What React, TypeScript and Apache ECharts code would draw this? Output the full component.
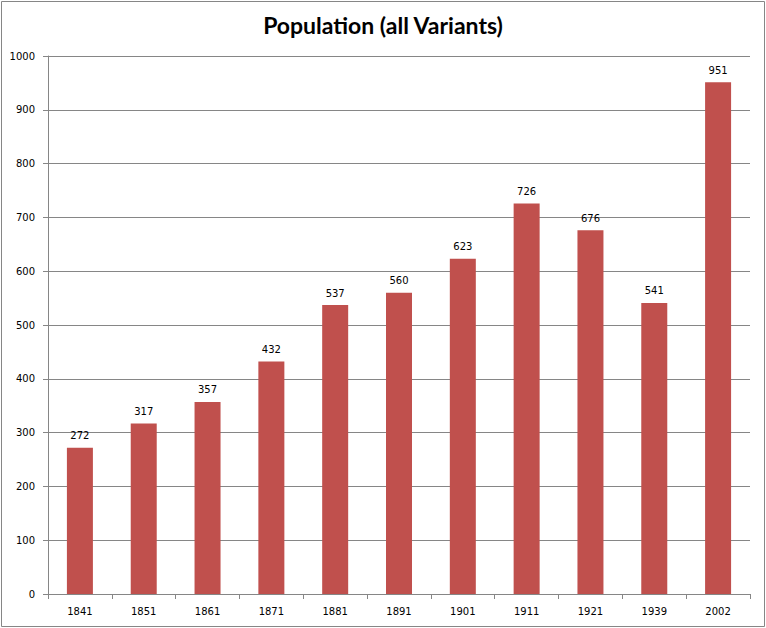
import React, { useEffect, useRef } from "react";
import * as echarts from "echarts";

const years = ["1841", "1851", "1861", "1871", "1881", "1891", "1901", "1911", "1921", "1939", "2002"];
const population = [272, 317, 357, 432, 537, 560, 623, 726, 676, 541, 951];
const titleText = "Population (all Variants)";

const LINE = "#868686";
const FONT = "DejaVu Sans";

export default function App() {
  const ref = useRef<HTMLDivElement>(null);

  useEffect(() => {
    if (!ref.current) return;
    const chart = echarts.init(ref.current, null, { renderer: "svg" });
    chart.setOption({
      animation: false,
      backgroundColor: "#ffffff",
      title: {
        text: titleText,
        left: "center",
        top: 8,
        textStyle: { fontFamily: "Lato", fontWeight: "bold", fontSize: 23, color: "#000" },
      },
      graphic: [
        {
          type: "rect",
          shape: { x: 1.5, y: 1.5, width: 763, height: 625 },
          style: { fill: "none", stroke: LINE, lineWidth: 1 },
          silent: true,
        },
      ],
      grid: { left: 48, right: 16, top: 56, bottom: 34 },
      xAxis: {
        type: "category",
        data: years,
        axisLine: { show: true, lineStyle: { color: LINE } },
        axisTick: { show: true, alignWithLabel: false, length: 5, lineStyle: { color: LINE } },
        axisLabel: { fontFamily: FONT, fontSize: 10, color: "#000", margin: 12 },
      },
      yAxis: {
        type: "value",
        min: 0,
        max: 1000,
        interval: 100,
        axisLine: { show: true, lineStyle: { color: LINE } },
        axisTick: { show: true, length: 5, lineStyle: { color: LINE } },
        axisLabel: {
          fontFamily: FONT,
          fontSize: 10,
          color: "#000",
          margin: 13,
          formatter: (v: number) => String(v),
        },
        splitLine: { show: true, lineStyle: { color: LINE, width: 1 } },
      },
      series: [
        {
          type: "bar",
          data: population,
          barWidth: 26,
          itemStyle: { color: "#C0504D" },
          label: {
            show: true,
            position: "top",
            distance: 7,
            fontFamily: FONT,
            fontSize: 10,
            color: "#000",
          },
        },
      ],
    });
    return () => chart.dispose();
  }, []);

  return <div ref={ref} style={{ width: 766, height: 628, position: "absolute", left: 0, top: 0 }} />;
}
